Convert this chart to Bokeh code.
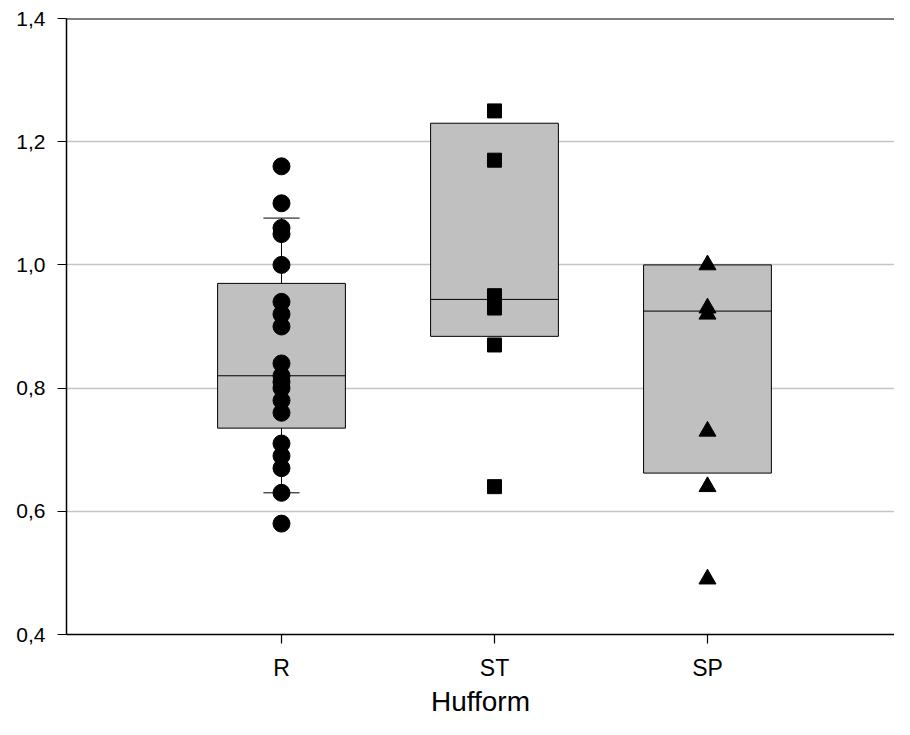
from bokeh.plotting import figure
from bokeh.models import FixedTicker, CustomJSTickFormatter, Span
from bokeh.embed import file_html
from bokeh.resources import INLINE

# ---- data ----
categories = ["R", "ST", "SP"]
r_values = [1.16, 1.10, 1.06, 1.05, 1.00, 0.94, 0.92, 0.90, 0.84, 0.82, 0.81,
            0.80, 0.78, 0.76, 0.71, 0.69, 0.67, 0.63, 0.58]
st_values = [1.25, 1.17, 0.95, 0.93, 0.87, 0.64]
sp_values = [1.00, 0.93, 0.92, 0.73, 0.64, 0.49]
box_q1 = [0.735, 0.884, 0.662]
box_median = [0.820, 0.944, 0.925]
box_q3 = [0.970, 1.230, 1.000]
r_whisker_low = 0.63
r_whisker_high = 1.076
y_ticks = [0.4, 0.6, 0.8, 1.0, 1.2, 1.4]
grid_ticks = [0.6, 0.8, 1.0, 1.2]
x_title = "Hufform"

xpos = [i + 1 for i in range(len(categories))]
FONT = "Liberation Sans"

p = figure(width=894, height=719, x_range=(-0.0094, 3.878), y_range=(0.4, 1.4),
           output_backend="svg", toolbar_location=None,
           min_border_left=66, min_border_right=0, min_border_top=18,
           min_border_bottom=85)
p.outline_line_color = None
p.background_fill_color = "white"
p.border_fill_color = "white"

# grid
p.xgrid.grid_line_color = None
p.ygrid.ticker = FixedTicker(ticks=grid_ticks)
p.ygrid.grid_line_color = "#c4c4c4"
p.ygrid.grid_line_width = 1.5

# axes
p.yaxis.ticker = FixedTicker(ticks=y_ticks)
p.yaxis.formatter = CustomJSTickFormatter(code="return tick.toFixed(1).replace('.', ',');")
p.xaxis.ticker = FixedTicker(ticks=xpos)
p.xaxis.major_label_overrides = {x: c for x, c in zip(xpos, categories)}
for ax in (p.xaxis[0], p.yaxis[0]):
    ax.axis_line_color = "black"
    ax.axis_line_width = 1.5
    ax.major_tick_line_color = "black"
    ax.major_tick_line_width = 1.2
    ax.major_tick_out = 9
    ax.major_tick_in = 0
    ax.minor_tick_line_color = None
    ax.major_label_text_font = FONT
    ax.major_label_text_color = "black"
p.yaxis.major_label_text_font_size = "21px"
p.yaxis.major_label_standoff = 12
p.xaxis.major_label_text_font_size = "23px"
p.xaxis.major_label_standoff = 11
p.xaxis.axis_label = x_title
p.xaxis.axis_label_text_font = FONT
p.xaxis.axis_label_text_font_size = "28px"
p.xaxis.axis_label_text_font_style = "normal"
p.xaxis.axis_label_text_color = "black"
p.xaxis.axis_label_standoff = 2

# top frame line
p.add_layout(Span(location=1.4, dimension="width", line_color="black", line_width=2))

# boxes
half = 0.3
p.quad(left=[x - half for x in xpos], right=[x + half for x in xpos],
       bottom=box_q1, top=box_q3, fill_color="#c0c0c0", line_color="black",
       line_width=1)
p.segment(x0=[x - half for x in xpos], x1=[x + half for x in xpos],
          y0=box_median, y1=box_median, line_color="black", line_width=1)

# whiskers for R
cap = 0.085
p.segment(x0=[xpos[0], xpos[0]], x1=[xpos[0], xpos[0]],
          y0=[box_q3[0], box_q1[0]], y1=[r_whisker_high, r_whisker_low],
          line_color="black", line_width=1)
p.segment(x0=[xpos[0] - cap] * 2, x1=[xpos[0] + cap] * 2,
          y0=[r_whisker_high, r_whisker_low], y1=[r_whisker_high, r_whisker_low],
          line_color="black", line_width=1)

# points
p.scatter(x=[xpos[0]] * len(r_values), y=r_values, marker="circle", size=17,
          fill_color="black", line_color="black")
p.scatter(x=[xpos[1]] * len(st_values), y=st_values, marker="square", size=14,
          fill_color="black", line_color="black")
p.scatter(x=[xpos[2]] * len(sp_values), y=sp_values, marker="triangle", size=17,
          fill_color="black", line_color="black")

open("out.html", "w").write(file_html(p, INLINE))
